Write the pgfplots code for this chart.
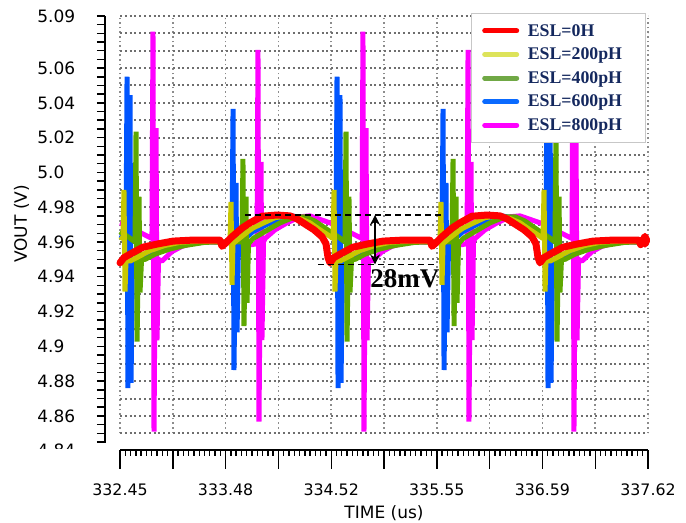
\documentclass[border=0pt]{standalone}
\usepackage{pgfplots}
\pgfplotsset{compat=1.18}
\usepackage{fontspec}
\usetikzlibrary{arrows.meta}
\newfontfamily\tickfont{DejaVu Sans}
\newfontfamily\legfont{Liberation Serif}
\definecolor{cred}{HTML}{FF0000}
\definecolor{cyel}{HTML}{C8C800}
\definecolor{cgrn}{HTML}{5EA800}
\definecolor{cblu}{HTML}{0055FF}
\definecolor{cmag}{HTML}{FF00FF}
\definecolor{lyel}{HTML}{DDE35A}
\definecolor{lgrn}{HTML}{70A845}
\definecolor{lblu}{HTML}{0A6AFF}
\definecolor{navy}{HTML}{14285E}
\definecolor{gridc}{HTML}{8C8C8C}
\definecolor{gridh}{HTML}{6E6E6E}
\tikzset{gridline/.style={draw=gridc, line width=0.8pt, dash pattern=on 0.8pt off 1.5pt},
         gridlineh/.style={draw=gridh, line width=1pt, dash pattern=on 1pt off 1.4pt}}
\begin{document}
\begin{tikzpicture}
\path[use as bounding box] (0,0) rectangle (343pt,261.5pt);
% ---------------- grid axis ----------------
\begin{axis}[
  at={(60pt,44.85pt)}, anchor=south west, scale only axis,
  width=264pt, height=208.7pt,
  xmin=332.45, xmax=337.62, ymin=4.85, ymax=5.09,
  xtick={332.45,332.967,333.484,334.001,334.518,335.035,335.552,336.069,336.586,337.103,337.62},
  ytick=\empty,
  xticklabel=\empty,
  major tick length=0pt,
  axis line style={draw=none},
  xmajorgrids=true,
  major grid style={gridline},
  clip=false,
]
\pgfplotsinvokeforeach{4.85,4.86,4.87,4.88,4.89,4.90,4.91,4.92,4.93,4.94,4.95,4.96,4.97,4.98,4.99,5.00,5.01,5.02,5.03,5.04,5.05,5.06,5.07,5.08,5.09}{
  \draw[gridlineh] (axis cs:332.45,#1) -- (axis cs:337.62,#1);
}
\end{axis}
% ---------------- data axis ----------------
\begin{axis}[
  at={(60pt,44.85pt)}, anchor=south west, scale only axis,
  width=264pt, height=208.7pt,
  xmin=332.45, xmax=337.62, ymin=4.85, ymax=5.09,
  xtick=\empty, ytick=\empty,
  axis line style={draw=none},
  clip=false,
  legend cell align=left,
  legend style={at={(0.6648,1.0077)}, anchor=north west, draw=black!22, line width=0.6pt, fill=white,
    inner xsep=5pt, inner ysep=2.9pt, row sep=0pt,
    font=\legfont\bfseries\fontsize{8.9}{10}\selectfont,
    nodes={inner sep=0pt, text height=8.5pt, text depth=3.3pt, text width=54pt, align=left, text=navy}},
  legend image code/.code={\draw[#1, line width=2.5pt, line cap=round] (1.25pt,0pt) -- (17.25pt,0pt); \path (0pt,0pt) (22.5pt,0pt);},
]
\addlegendimage{cred}
\addlegendentry{ESL=0H}
\addlegendimage{lyel}
\addlegendentry{ESL=200pH}
\addlegendimage{lgrn}
\addlegendentry{ESL=400pH}
\addlegendimage{lblu}
\addlegendentry{ESL=600pH}
\addlegendimage{cmag}
\addlegendentry{ESL=800pH}
% magenta 800pH
\addplot[cmag, line width=2.5pt, line join=bevel, forget plot] coordinates {
(332.450,4.971) (332.548,4.969) (332.646,4.9655) (332.763,4.962) (332.773,5.081) (332.783,4.851) (332.803,5.0255) (332.812,4.9035) (332.827,4.950) (332.861,4.949) (332.959,4.9545) (333.057,4.9575) (333.184,4.9595) (333.331,4.960) (333.527,4.9595) (333.742,4.9585) (333.792,4.959) (333.801,5.0704) (333.811,4.8567) (333.831,5.006) (333.840,4.9036) (333.855,4.960) (333.870,4.962) (333.968,4.967) (334.085,4.971) (334.213,4.9745) (334.310,4.975) (334.408,4.973)
(334.506,4.971) (334.604,4.969) (334.702,4.9655) (334.820,4.962) (334.829,5.081) (334.839,4.851) (334.859,5.0255) (334.869,4.9035) (334.883,4.950) (334.918,4.949) (335.016,4.9545) (335.113,4.9575) (335.241,4.9595) (335.388,4.960) (335.583,4.9595) (335.799,4.9585) (335.848,4.959) (335.858,5.0704) (335.867,4.8567) (335.887,5.006) (335.897,4.9036) (335.911,4.960) (335.926,4.962) (336.024,4.967) (336.142,4.971) (336.269,4.9745) (336.367,4.975) (336.465,4.973)
(336.563,4.971) (336.661,4.969) (336.758,4.9655) (336.876,4.962) (336.886,5.081) (336.895,4.851) (336.915,5.0255) (336.925,4.9035) (336.940,4.950) (336.974,4.949) (337.072,4.9545) (337.170,4.9575) (337.297,4.9595) (337.444,4.960) (337.620,4.9595)
};
% blue 600pH
\addplot[cblu, line width=2.5pt, line join=bevel, forget plot] coordinates {
(332.450,4.964) (332.509,4.962) (332.519,5.055) (332.528,4.876) (332.548,5.0445) (332.558,4.879) (332.572,4.950) (332.607,4.9495) (332.695,4.9515) (332.793,4.954) (332.940,4.957) (333.087,4.959) (333.282,4.9603) (333.449,4.960) (333.547,4.9597) (333.557,5.0365) (333.566,4.8864) (333.586,4.994) (333.596,4.908) (333.610,4.959) (333.654,4.961) (333.752,4.966) (333.870,4.9695) (334.017,4.9735) (334.134,4.975) (334.262,4.9735) (334.359,4.9705) (334.457,4.966)
(334.506,4.964) (334.565,4.962) (334.575,5.055) (334.585,4.876) (334.604,5.0445) (334.614,4.879) (334.629,4.950) (334.663,4.9495) (334.751,4.9515) (334.849,4.954) (334.996,4.957) (335.143,4.959) (335.339,4.9603) (335.505,4.960) (335.603,4.9597) (335.613,5.0365) (335.623,4.8864) (335.642,4.994) (335.652,4.908) (335.667,4.959) (335.711,4.961) (335.809,4.966) (335.926,4.9695) (336.073,4.9735) (336.191,4.975) (336.318,4.9735) (336.416,4.9705) (336.514,4.966)
(336.563,4.964) (336.621,4.962) (336.631,5.055) (336.641,4.876) (336.661,5.0445) (336.670,4.879) (336.685,4.950) (336.719,4.9495) (336.807,4.9515) (336.905,4.954) (337.052,4.957) (337.199,4.959) (337.395,4.9603) (337.561,4.960) (337.620,4.960)
};
% green 400pH
\addplot[cgrn, line width=2.5pt, line join=bevel, forget plot] coordinates {
(332.450,4.966) (332.528,4.963) (332.597,4.960) (332.607,5.0234) (332.617,4.9027) (332.636,4.986) (332.646,4.931) (332.661,4.950) (332.695,4.950) (332.793,4.953) (332.940,4.956) (333.087,4.958) (333.282,4.9598) (333.449,4.960) (333.645,4.960) (333.654,5.0078) (333.664,4.9117) (333.684,4.986) (333.694,4.925) (333.708,4.959) (333.752,4.962) (333.870,4.966) (334.017,4.971) (334.164,4.9745) (334.262,4.9745) (334.359,4.972) (334.457,4.968)
(334.506,4.966) (334.585,4.963) (334.653,4.960) (334.663,5.0234) (334.673,4.9027) (334.692,4.986) (334.702,4.931) (334.717,4.950) (334.751,4.950) (334.849,4.953) (334.996,4.956) (335.143,4.958) (335.339,4.9598) (335.505,4.960) (335.701,4.960) (335.711,5.0078) (335.721,4.9117) (335.740,4.986) (335.750,4.925) (335.765,4.959) (335.809,4.962) (335.926,4.966) (336.073,4.971) (336.220,4.9745) (336.318,4.9745) (336.416,4.972) (336.514,4.968)
(336.563,4.966) (336.641,4.963) (336.709,4.960) (336.719,5.0234) (336.729,4.9027) (336.749,4.986) (336.758,4.931) (336.773,4.950) (336.807,4.950) (336.905,4.953) (337.052,4.956) (337.199,4.958) (337.395,4.9598) (337.561,4.960) (337.620,4.960)
};
% yellow 200pH
\addplot[cyel, line width=2.5pt, line join=bevel, forget plot] coordinates {
(332.450,4.963) (332.479,4.962) (332.489,4.990) (332.499,4.9315) (332.509,4.950) (332.548,4.949) (332.646,4.952) (332.744,4.955) (332.891,4.958) (333.038,4.9598) (333.233,4.9605) (333.449,4.960) (333.527,4.9595) (333.537,4.983) (333.547,4.9353) (333.556,4.959) (333.605,4.9615) (333.703,4.966) (333.752,4.968) (333.821,4.970) (333.968,4.974) (334.095,4.975) (334.213,4.9735) (334.310,4.971) (334.408,4.967) (334.487,4.964)
(334.536,4.962) (334.546,4.990) (334.555,4.9315) (334.565,4.950) (334.604,4.949) (334.702,4.952) (334.800,4.955) (334.947,4.958) (335.094,4.9598) (335.290,4.9605) (335.505,4.960) (335.583,4.9595) (335.593,4.983) (335.603,4.9353) (335.613,4.959) (335.662,4.9615) (335.760,4.966) (335.809,4.968) (335.877,4.970) (336.024,4.974) (336.151,4.975) (336.269,4.9735) (336.367,4.971) (336.465,4.967) (336.543,4.964)
(336.592,4.962) (336.602,4.990) (336.612,4.9315) (336.621,4.950) (336.661,4.949) (336.758,4.952) (336.856,4.955) (337.003,4.958) (337.150,4.9598) (337.346,4.9605) (337.561,4.960) (337.620,4.960)
};
% red 0H
\addplot[cred, line width=3.5pt, line join=round, line cap=round, forget plot] coordinates {
(332.450,4.948) (332.489,4.951) (332.548,4.953) (332.675,4.957) (332.812,4.9588) (332.969,4.9605) (333.135,4.961) (333.429,4.961) (333.449,4.9575) (333.478,4.959) (333.547,4.963) (333.645,4.968) (333.723,4.971) (333.840,4.9748) (333.987,4.9755) (334.115,4.9750) (334.183,4.9733) (334.262,4.9703) (334.350,4.967) (334.428,4.963) (334.467,4.959) (334.487,4.951) (334.506,4.948)
(334.545,4.951) (334.604,4.953) (334.731,4.957) (334.868,4.9588) (335.025,4.9605) (335.191,4.961) (335.485,4.961) (335.505,4.9575) (335.534,4.959) (335.603,4.963) (335.701,4.968) (335.779,4.971) (335.896,4.9748) (336.043,4.9755) (336.171,4.9750) (336.239,4.9733) (336.318,4.9703) (336.406,4.967) (336.484,4.963) (336.523,4.959) (336.543,4.951) (336.562,4.948)
(336.601,4.951) (336.660,4.953) (336.787,4.957) (336.924,4.9588) (337.081,4.9605) (337.247,4.961) (337.530,4.961) (337.548,4.9585) (337.570,4.961) (337.590,4.9632) (337.608,4.961) (337.590,4.9588) (337.570,4.961)
};
% 28 mV annotation
\addplot[black, line width=0.6pt, dash pattern=on 3pt off 2pt, forget plot] coordinates {(333.674,4.9755) (335.632,4.9755)};
\addplot[black, line width=0.6pt, dash pattern=on 3pt off 2pt, forget plot] coordinates {(334.389,4.9471) (335.544,4.9471)};
\addplot[black, line width=0.8pt, {Stealth[length=5pt,width=5pt]}-{Stealth[length=5pt,width=5pt]}, forget plot] coordinates {(334.947,4.9755) (334.947,4.9471)};
\node[anchor=base west, inner sep=0pt, font=\legfont\bfseries\fontsize{13.5}{15}\selectfont] at (axis cs:334.898,4.934) {28mV};
\end{axis}
% ---------------- y axis (ticks) ----------------
\begin{axis}[
  at={(52.5pt,40pt)}, anchor=south west, scale only axis,
  width=20pt, height=213.55pt,
  xmin=0, xmax=1, ymin=4.8444, ymax=5.09,
  axis x line=none, axis y line=left,
  axis line style={-, black, line width=0.9pt},
  xtick=\empty,
  ytick={4.86,4.88,4.90,4.92,4.94,4.96,4.98,5.00,5.02,5.04,5.06,5.09},
  minor ytick={4.845,4.85,4.855,4.865,4.87,4.875,4.885,4.89,4.895,4.905,4.91,4.915,4.925,4.93,4.935,4.945,4.95,4.955,4.965,4.97,4.975,4.985,4.99,4.995,5.005,5.01,5.015,5.025,5.03,5.035,5.045,5.05,5.055,5.065,5.07,5.075,5.08,5.085},
  yticklabels={},
  tick align=outside, major tick length=4pt, minor tick length=4pt,
  every tick/.style={black, line width=0.75pt},
]
\end{axis}
% ---------------- y axis (labels) ----------------
\begin{axis}[
  at={(18.5pt,31.8pt)}, anchor=south west, scale only axis,
  width=10pt, height=221.75pt,
  xmin=0, xmax=1, ymin=4.835, ymax=5.09,
  axis x line=none, axis y line=left,
  axis line style={draw=none},
  xtick=\empty,
  ytick={4.84,4.86,4.88,4.90,4.92,4.94,4.96,4.98,5.00,5.02,5.04,5.06,5.09},
  yticklabels={4.84,4.86,4.88,4.9,4.92,4.94,4.96,4.98,5.0,5.02,5.04,5.06,5.09},
  major tick length=0pt, tick style={draw=none},
  yticklabel style={anchor=west, inner sep=0pt, font=\tickfont\fontsize{8.5}{10}\selectfont},
]
\end{axis}
\fill[white] (10pt,22pt) rectangle (50pt,36.75pt);
% ---------------- x axis (ticks) ----------------
\begin{axis}[
  at={(60pt,36.5pt)}, anchor=south west, scale only axis,
  width=264pt, height=10pt,
  xmin=332.45, xmax=337.62, ymin=0, ymax=1,
  axis y line=none, axis x line=bottom,
  axis line style={-, black, line width=0.8pt},
  ytick=\empty,
  xtick={332.45,332.967,333.484,334.001,334.518,335.035,335.552,336.069,336.586,337.103,337.62},
  xticklabels={},
  minor x tick num=9,
  tick align=outside, major tick length=9.5pt, minor tick length=2.8pt,
  every tick/.style={black, line width=0.7pt},
]
\end{axis}
% ---------------- x axis (labels) ----------------
\begin{axis}[
  at={(60pt,16.5pt)}, anchor=south west, scale only axis,
  width=264pt, height=10pt,
  xmin=332.45, xmax=337.62, ymin=0, ymax=1,
  axis y line=none, axis x line=bottom,
  axis line style={draw=none},
  ytick=\empty,
  xtick={332.45,333.484,334.518,335.552,336.586,337.62},
  xticklabels={332.45,333.48,334.52,335.55,336.59,337.62},
  major tick length=0pt, tick style={draw=none},
  xticklabel style={anchor=center, inner sep=0pt, font=\tickfont\fontsize{7.9}{9}\selectfont},
  xlabel={TIME (us)},
  xlabel style={at={(axis description cs:0.5,0)}, anchor=north, inner sep=0pt, yshift=-7.5pt, font=\tickfont\fontsize{8.5}{10}\selectfont},
]
\end{axis}
\node[rotate=90, inner sep=0pt, font=\tickfont\fontsize{8.5}{10}\selectfont] at (10.75pt,149.5pt) {VOUT (V)};
\end{tikzpicture}
\end{document}
